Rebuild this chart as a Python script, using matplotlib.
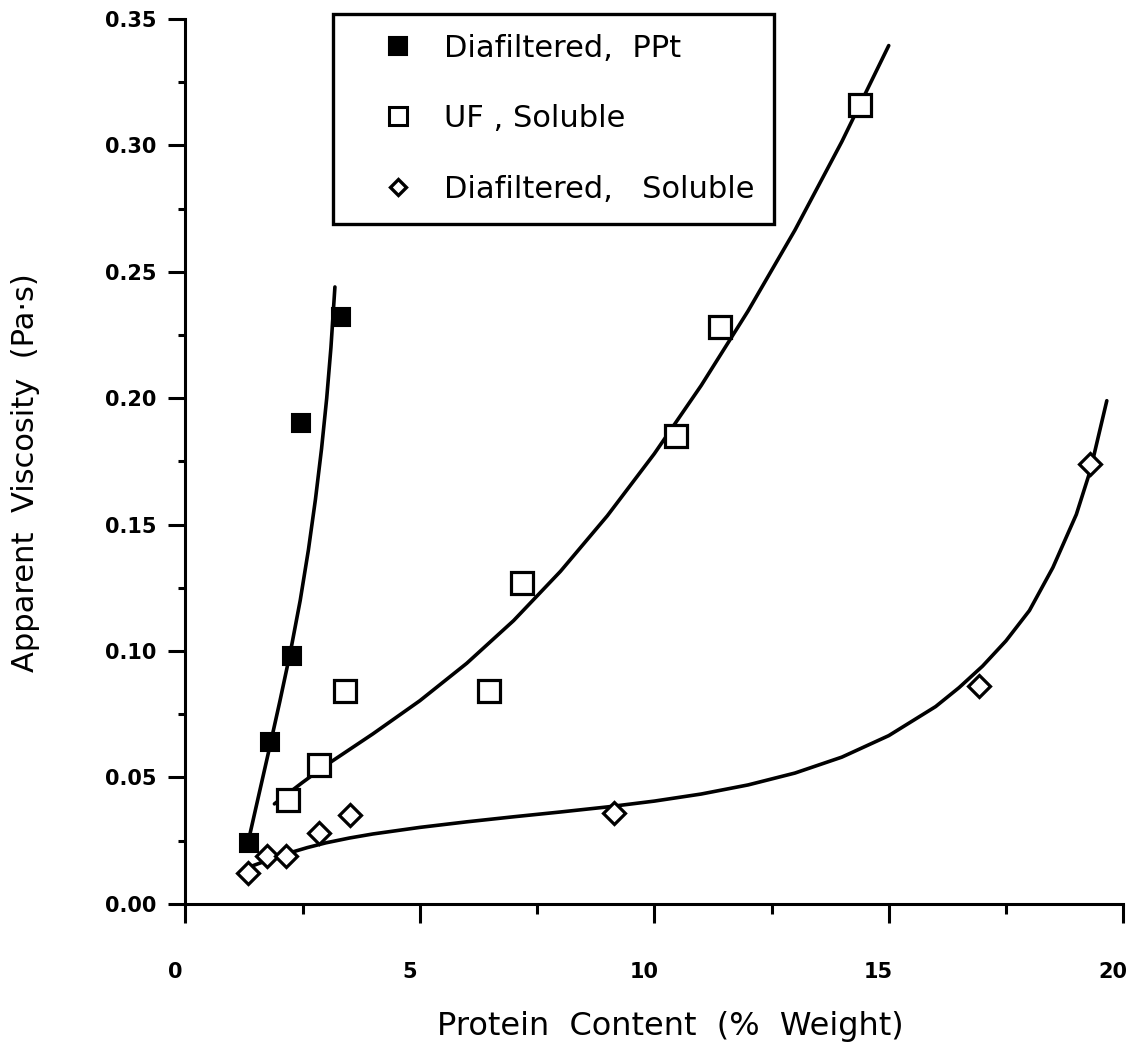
import matplotlib
matplotlib.use("Agg")
import matplotlib.pyplot as plt
import matplotlib.transforms as mtransforms
from matplotlib.lines import Line2D
from matplotlib.ticker import MultipleLocator, FormatStrFormatter

plt.rcParams['font.family'] = ['DejaVu Sans']

# ---- data ----
ppt_x = [1.35, 1.80, 2.28, 2.47, 3.32]
ppt_y = [0.024, 0.064, 0.098, 0.190, 0.232]

uf_x = [2.20, 2.84, 3.41, 6.47, 7.19, 10.47, 11.41, 14.39]
uf_y = [0.041, 0.055, 0.084, 0.084, 0.127, 0.185, 0.228, 0.316]

dsol_x = [1.33, 1.74, 2.15, 2.84, 3.51, 9.14, 16.92, 19.30]
dsol_y = [0.012, 0.019, 0.019, 0.028, 0.035, 0.036, 0.086, 0.174]

# fitted curves
ppt_curve_x = [1.31, 1.53, 1.775, 2.015, 2.245, 2.45, 2.625, 2.775, 2.905, 3.015, 3.105, 3.19]
ppt_curve_y = [0.022, 0.040, 0.060, 0.080, 0.100, 0.120, 0.140, 0.160, 0.180, 0.200, 0.220, 0.244]

uf_curve_x = [1.9, 2.5, 3.0, 4.0, 5.0, 6.0, 7.0, 8.0, 9.0, 10.0, 11.0, 12.0, 13.0, 14.0, 15.0]
uf_curve_y = [0.0395, 0.0480, 0.0548, 0.0672, 0.0803, 0.0951, 0.1120, 0.1315, 0.1535,
              0.1780, 0.2050, 0.2345, 0.2665, 0.3015, 0.3395]

dsol_curve_x = [1.36, 1.8, 2.2, 2.6, 3.0, 3.5, 4.0, 5.0, 6.0, 7.0, 8.0, 9.0, 10.0, 11.0,
                12.0, 13.0, 14.0, 15.0, 16.0, 16.5, 17.0, 17.5, 18.0, 18.5, 19.0, 19.3, 19.65]
dsol_curve_y = [0.0145, 0.0175, 0.0200, 0.0222, 0.0241, 0.0260, 0.0276, 0.0302, 0.0324,
                0.0344, 0.0363, 0.0383, 0.0406, 0.0434, 0.0470, 0.0517, 0.0580, 0.0665,
                0.0780, 0.0855, 0.0940, 0.1040, 0.1160, 0.1330, 0.1540, 0.1715, 0.1990]

labels = ["Diafiltered,  PPt", "UF , Soluble", "Diafiltered,   Soluble"]
x_ticks = [0, 5, 10, 15, 20]
y_ticks = [0.00, 0.05, 0.10, 0.15, 0.20, 0.25, 0.30, 0.35]

# ---- figure ----
fig = plt.figure(figsize=(11.3, 10.57), dpi=100)
ax = fig.add_axes([0.164, 0.145, 0.830, 0.837])

lw = 2.6
for cx, cy in [(ppt_curve_x, ppt_curve_y), (uf_curve_x, uf_curve_y),
               (dsol_curve_x, dsol_curve_y)]:
    ax.plot(cx, cy, color='black', lw=lw, solid_capstyle='round', solid_joinstyle='round')

ax.plot(ppt_x, ppt_y, ls='none', marker='s', ms=13.5, mfc='black', mec='black', mew=1.5)
ax.plot(uf_x, uf_y, ls='none', marker='s', ms=16, mfc='white', mec='black', mew=2.3)
ax.plot(dsol_x, dsol_y, ls='none', marker='D', ms=11.5, mfc='white', mec='black', mew=2.3)

ax.set_xlim(0, 20)
ax.set_ylim(0, 0.35)
ax.set_xticks(x_ticks)
ax.set_yticks(y_ticks)
ax.xaxis.set_minor_locator(MultipleLocator(2.5))
ax.yaxis.set_minor_locator(MultipleLocator(0.025))
ax.yaxis.set_major_formatter(FormatStrFormatter('%.2f'))

for s in ['top', 'right']:
    ax.spines[s].set_visible(False)
for s in ['left', 'bottom']:
    ax.spines[s].set_linewidth(2.2)

ax.tick_params(axis='x', which='major', direction='out', length=14, width=2.2, pad=28,
               labelsize=15)
ax.tick_params(axis='x', which='minor', direction='out', length=7, width=2.2)
ax.tick_params(axis='y', which='major', direction='out', length=12, width=2.2, pad=9,
               labelsize=15)
ax.tick_params(axis='y', which='minor', direction='out', length=5, width=2.2)
shift = mtransforms.ScaledTranslation(-10 / 100, 0, fig.dpi_scale_trans)
for t in ax.get_xticklabels():
    t.set_fontweight('bold')
    t.set_transform(t.get_transform() + shift)
for t in ax.get_yticklabels():
    t.set_fontweight('bold')

ax.set_xlabel("Protein  Content  (%  Weight)", fontsize=23)
ax.set_ylabel("Apparent  Viscosity  (Pa·s)", fontsize=22)
ax.xaxis.set_label_coords(0.517, -0.121)
ax.yaxis.set_label_coords(-0.155, 0.487)

handles = [
    Line2D([], [], ls='none', marker='s', ms=13, mfc='black', mec='black', mew=1.5),
    Line2D([], [], ls='none', marker='s', ms=13, mfc='white', mec='black', mew=2.2),
    Line2D([], [], ls='none', marker='D', ms=8.5, mfc='white', mec='black', mew=2.4),
]
leg = ax.legend(handles, labels, loc='upper left', bbox_to_anchor=(0.157, 1.006),
                fontsize=22, frameon=True, fancybox=False, framealpha=1,
                edgecolor='black', borderpad=0.65, handlelength=3.0, handletextpad=0.0,
                labelspacing=1.36, borderaxespad=0)
leg.get_frame().set_linewidth(2.4)

fig.savefig("out.png", dpi=100)
